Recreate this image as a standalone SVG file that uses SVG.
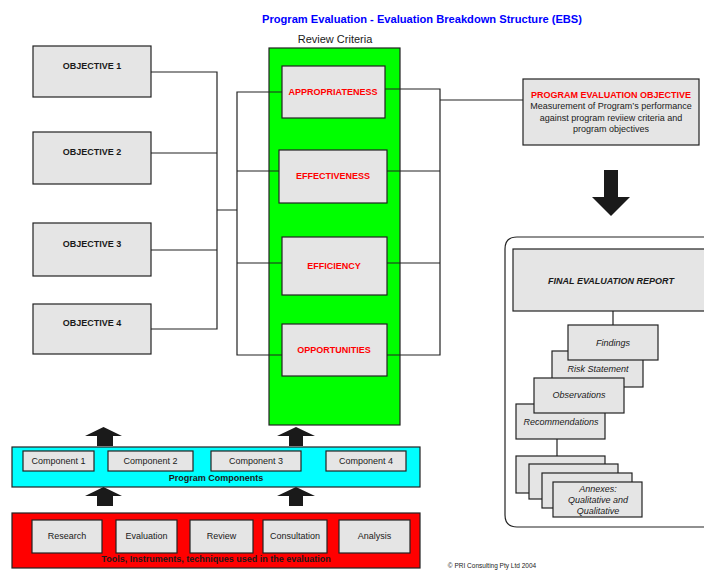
<svg xmlns="http://www.w3.org/2000/svg" width="704" height="570" viewBox="0 0 704 570">
<style>
text{font-family:"Liberation Sans",Arial,sans-serif;fill:#1a1a1a;text-anchor:middle}
.box{fill:#e5e5e5;stroke:#222;stroke-width:1.2}
.b{font-weight:bold;font-size:9px}
.r{fill:#ff0000;font-weight:bold;font-size:9px}
.n{font-size:9px}
.i{font-style:italic;font-size:9px}
.ln{fill:none;stroke:#222;stroke-width:1.2}
.arr{fill:#1a1a1a}
</style>
<rect width="704" height="570" fill="#ffffff"/>
<text x="422" y="23" font-size="11" font-weight="bold" style="fill:#0000ff" textLength="320" lengthAdjust="spacingAndGlyphs">Program Evaluation - Evaluation Breakdown Structure (EBS)</text>
<text x="335" y="43" font-size="11">Review Criteria</text>

<g id="review-criteria"><rect x="269" y="48" width="131" height="377" fill="#00ff00" stroke="#222" stroke-width="1.2"/></g>
<g id="report-container"><path d="M710 237H517Q505 237 505 249V515Q505 527 517 527H710" fill="#ffffff" stroke="#222" stroke-width="1.2"/></g>

<g id="connectors">
<path class="ln" d="M151 72H217V329H151M151 153H217M151 250H217M217 210H237"/>
<path class="ln" d="M282 92H237V355H282M237 171H279M237 263H282"/>
<path class="ln" d="M385 89H440V355H387M387 171H440M387 263H440M440 100H523"/>
<path class="ln" d="M613 311V325M557 439V456"/>
</g>

<g id="objective1"><rect class="box" x="33" y="46" width="118" height="51"/><text class="b" x="92" y="69">OBJECTIVE 1</text></g>
<g id="objective2"><rect class="box" x="33" y="132" width="118" height="52"/><text class="b" x="92" y="155">OBJECTIVE 2</text></g>
<g id="objective3"><rect class="box" x="33" y="223" width="118" height="53"/><text class="b" x="92" y="247">OBJECTIVE 3</text></g>
<g id="objective4"><rect class="box" x="33" y="304" width="118" height="50"/><text class="b" x="92" y="326">OBJECTIVE 4</text></g>

<g id="appropriateness"><rect class="box" x="282" y="66" width="103" height="52"/><text class="r" x="333" y="95">APPROPRIATENESS</text></g>
<g id="effectiveness"><rect class="box" x="279" y="150" width="108" height="53"/><text class="r" x="333" y="179">EFFECTIVENESS</text></g>
<g id="efficiency"><rect class="box" x="282" y="237" width="105" height="58"/><text class="r" x="334" y="269">EFFICIENCY</text></g>
<g id="opportunities"><rect class="box" x="282" y="324" width="105" height="52"/><text class="r" x="334" y="353">OPPORTUNITIES</text></g>

<g id="peo">
<rect class="box" x="523" y="79" width="176" height="66"/>
<text class="r" x="611" y="98">PROGRAM EVALUATION OBJECTIVE</text>
<text class="n" x="611" y="109">Measurement of Program’s performance</text>
<text class="n" x="611" y="121">against program reviiew criteria and</text>
<text class="n" x="611" y="132">program objectives</text>
</g>

<g id="down-arrow"><path class="arr" d="M604 170H618V197H630L611 216L592 197H604Z"/></g>

<g id="final-report"><rect class="box" x="513" y="249" width="200" height="62"/><text class="b" x="611" y="284" font-style="italic">FINAL EVALUATION REPORT</text></g>
<g id="recommendations"><rect class="box" x="516" y="404" width="89" height="35"/><text class="i" x="561" y="425">Recommendations</text></g>
<g id="risk-statement"><rect class="box" x="552" y="351" width="91" height="36"/><text class="i" x="598" y="372">Risk Statement</text></g>
<g id="observations"><rect class="box" x="534" y="378" width="90" height="35"/><text class="i" x="579" y="398">Observations</text></g>
<g id="findings"><rect class="box" x="568" y="325" width="90" height="35"/><text class="i" x="613" y="346">Findings</text></g>
<g id="annexes">
<rect class="box" x="516" y="456" width="89" height="37"/>
<rect class="box" x="529" y="464" width="89" height="35"/>
<rect class="box" x="542" y="473" width="90" height="35"/>
<rect class="box" x="553" y="482" width="89" height="35"/>
<text class="i" x="598" y="492">Annexes:</text>
<text class="i" x="598" y="503">Qualitative and</text>
<text class="i" x="598" y="514">Qualitative</text>
</g>

<g id="up-arrows">
<path class="arr" d="M97 446V436H85L103.5 427L122 436H113V446Z"/>
<path class="arr" d="M289 446V436H277L296 427L315 436H303V446Z"/>
<path class="arr" d="M97 506V496H85L103.5 487L122 496H113V506Z"/>
<path class="arr" d="M289 506V496H277L296 487L315 496H303V506Z"/>
</g>

<g id="program-components">
<rect x="12" y="447" width="408" height="40" fill="#00ffff" stroke="#222" stroke-width="1.2"/>
<text class="b" x="216" y="481">Program Components</text>
</g>
<g id="component1"><rect class="box" x="23" y="451" width="71" height="20"/><text class="n" x="58.5" y="464">Component 1</text></g>
<g id="component2"><rect class="box" x="108" y="451" width="85" height="20"/><text class="n" x="150.5" y="464">Component 2</text></g>
<g id="component3"><rect class="box" x="211" y="451" width="90" height="20"/><text class="n" x="256" y="464">Component 3</text></g>
<g id="component4"><rect class="box" x="326" y="451" width="80" height="20"/><text class="n" x="366" y="464">Component 4</text></g>

<g id="tools">
<rect x="12" y="513" width="408" height="55" fill="#ff0000" stroke="#222" stroke-width="1.2"/>
<text class="b" x="216" y="562">Tools, Instruments, techniques used in the evaluation</text>
</g>
<g id="research"><rect class="box" x="32" y="520" width="70" height="33"/><text class="n" x="67" y="539">Research</text></g>
<g id="evaluation"><rect class="box" x="116" y="520" width="61" height="33"/><text class="n" x="146.5" y="539">Evaluation</text></g>
<g id="review"><rect class="box" x="190" y="520" width="63" height="33"/><text class="n" x="221.5" y="539">Review</text></g>
<g id="consultation"><rect class="box" x="263" y="520" width="64" height="33"/><text class="n" x="295" y="539">Consultation</text></g>
<g id="analysis"><rect class="box" x="339" y="520" width="71" height="33"/><text class="n" x="374.5" y="539">Analysis</text></g>

<text x="492" y="567.5" font-size="6.5">© PRI Consulting Pty Ltd 2004</text>
</svg>
